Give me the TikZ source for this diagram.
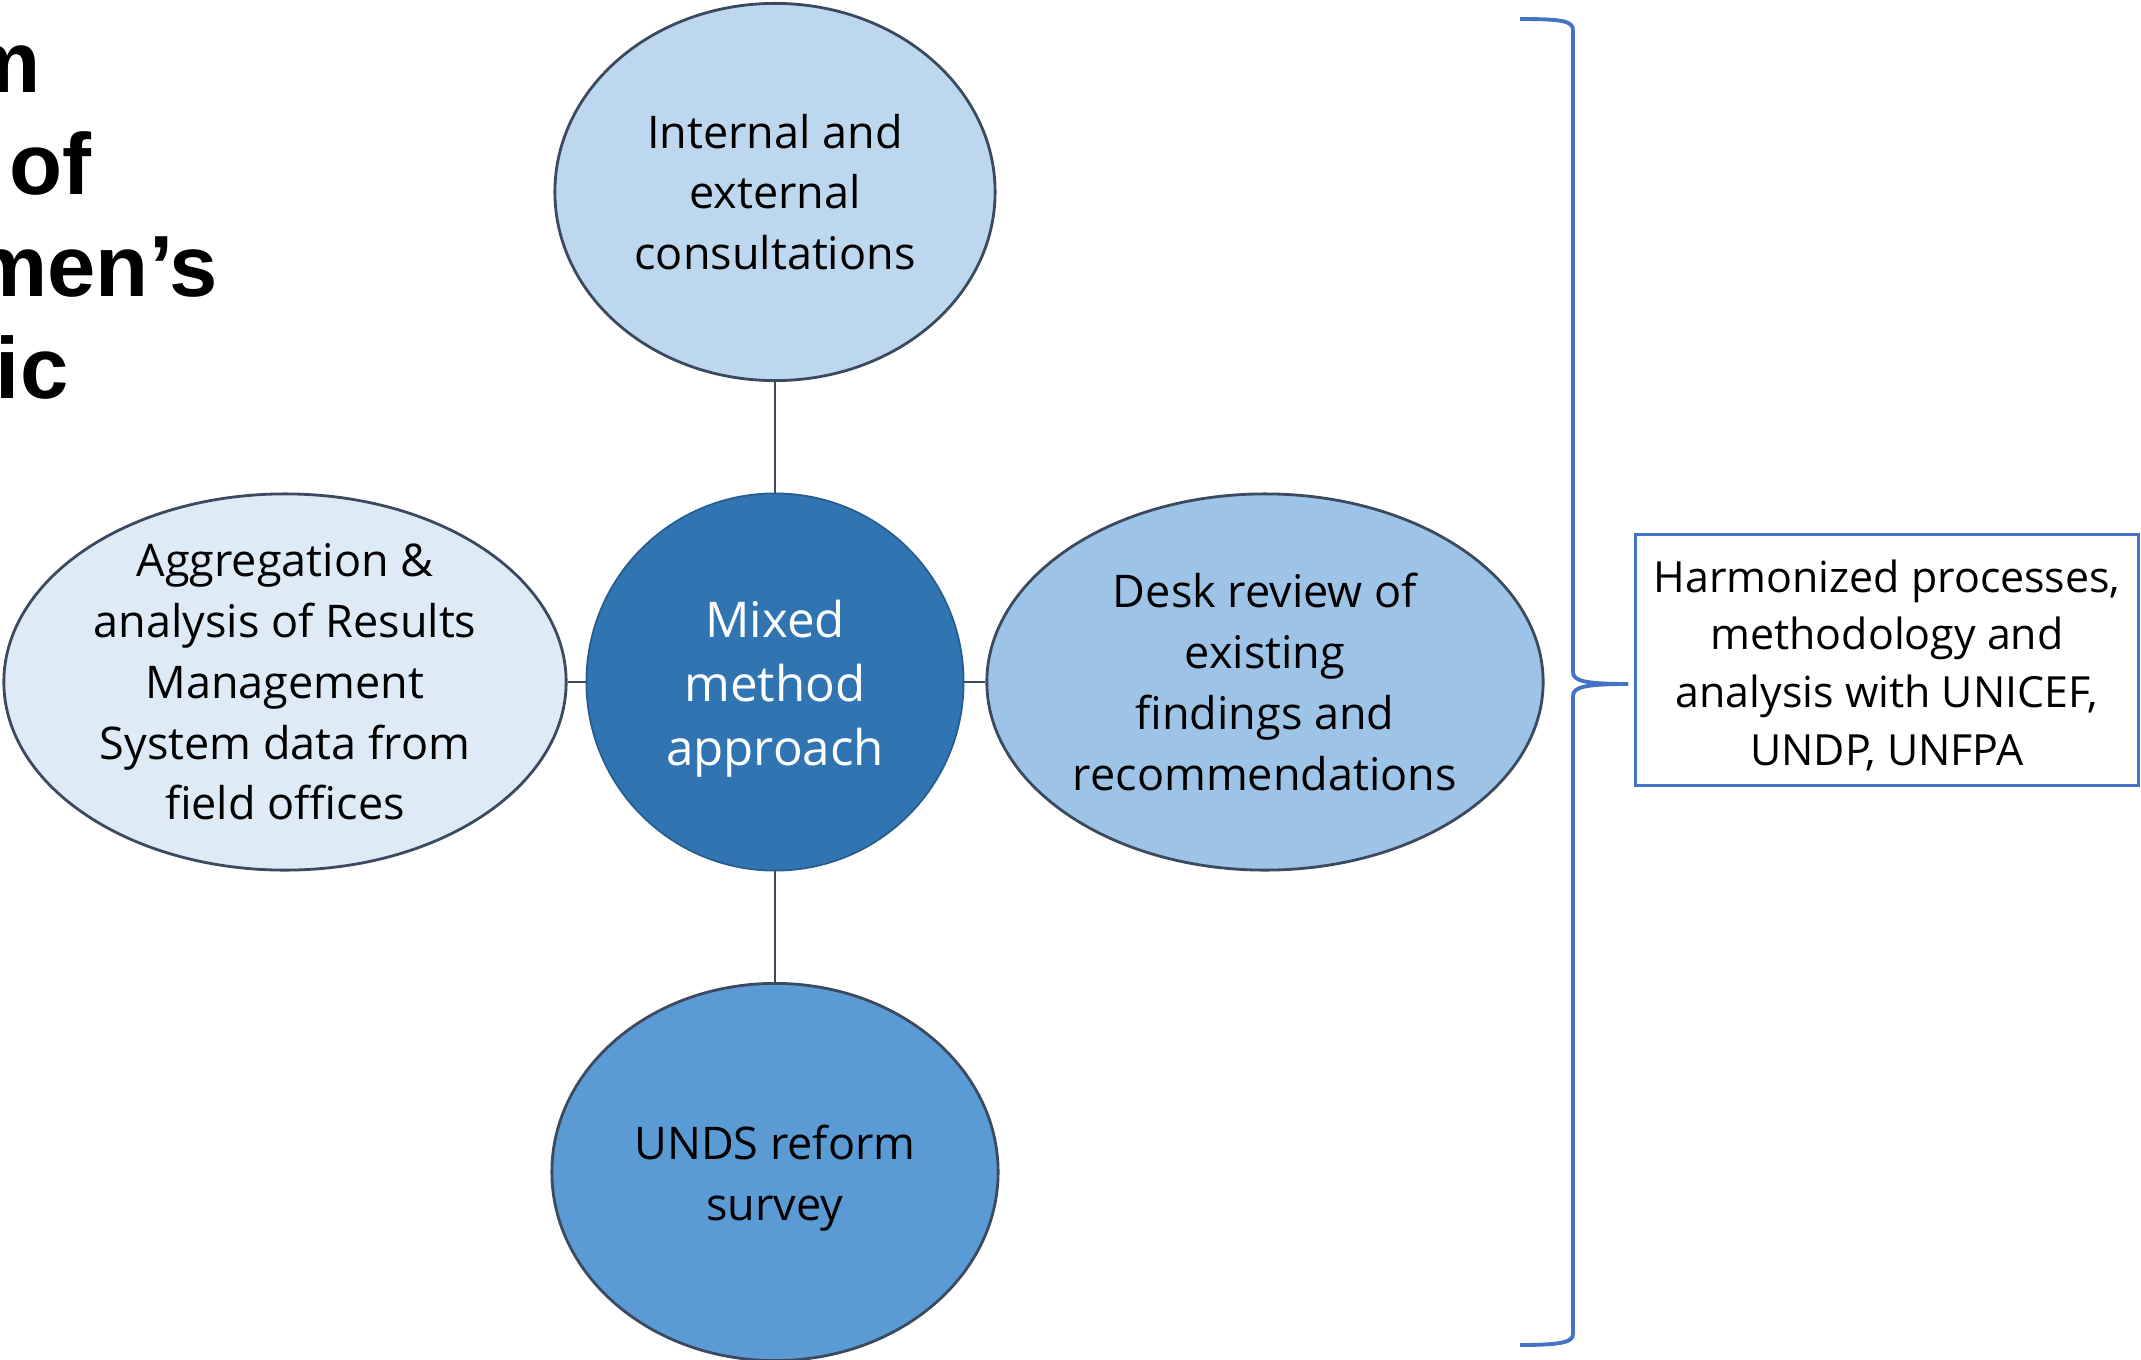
\documentclass[tikz,border=0pt]{standalone}
\usepackage{fontspec}
\setmainfont{Open Sans}
\newfontfamily\titlefont{Liberation Sans}
\usetikzlibrary{shapes.geometric}
\definecolor{edgec}{HTML}{3B4A5E}
\definecolor{topfill}{HTML}{BDD7EE}
\definecolor{leftfill}{HTML}{DEEBF7}
\definecolor{rightfill}{HTML}{9DC3E6}
\definecolor{botfill}{HTML}{5B9BD5}
\definecolor{centerfill}{HTML}{3174B2}
\definecolor{bracec}{HTML}{4472C4}
\begin{document}
\begin{tikzpicture}[x=0.01cm,y=-0.01cm,
  ell/.style={ellipse, draw=edgec, line width=0.8pt, inner sep=0pt},
  lbl/.style={align=center, inner sep=0pt, font=\fontsize{12.8}{17.3}\selectfont, text=black},
  clbl/.style={align=center, inner sep=0pt, font=\fontsize{14}{18.2}\selectfont, text=white},
  boxlbl/.style={align=center, inner sep=0pt, font=\fontsize{12.2}{16.4}\selectfont, text=black},
  conn/.style={draw=edgec, line width=0.8pt},
  bracestyle/.style={draw=bracec, line width=1.1pt},
  titletext/.style={font=\titlefont\bfseries\fontsize{24.7}{29}\selectfont, inner sep=0pt, anchor=base east},
  boxstyle/.style={draw=bracec, line width=0.9pt, minimum width=5.03cm, minimum height=2.51cm, inner sep=0pt}]
\useasboundingbox (0,0) rectangle (2141,1360);
\clip (0,0) rectangle (2141,1360);
% title fragments (cut off at the left edge, as in the reference)
\node[titletext] (t1) at (41,92) {m};
\node[titletext] (t2) at (92,194) {of};
\node[titletext] (t3) at (219,296) {men’s};
\node[titletext] (t4) at (69,398) {ic};
% ellipses
\node[ell, fill=topfill, minimum width=4.40cm, minimum height=3.77cm,
  label={[lbl]center:{Internal and\\external\\consultations}}] (top) at (775,192) {};
\node[ell, fill=leftfill, minimum width=5.62cm, minimum height=3.76cm,
  label={[lbl]center:{Aggregation \&\\analysis of Results\\Management\\System data from\\field offices}}] (left) at (285,682) {};
\node[ell, fill=rightfill, minimum width=5.56cm, minimum height=3.76cm,
  label={[lbl]center:{Desk review of\\existing\\findings and\\recommendations}}] (right) at (1265,682) {};
\node[ell, fill=botfill, minimum width=4.46cm, minimum height=3.77cm,
  label={[lbl, yshift=-0.06cm]center:{UNDS reform\\survey}}] (bottom) at (775,1172) {};
\node[circle, draw=centerfill!80!black, line width=0.5pt, fill=centerfill, minimum size=3.77cm, inner sep=0pt,
  label={[clbl, yshift=-0.07cm]center:{Mixed\\method\\approach}}] (mid) at (775,682) {};
% connectors
\draw[conn] (mid.north) -- (top.south);
\draw[conn] (mid.south) -- (bottom.north);
\draw[conn] (mid.west) -- (left.east);
\draw[conn] (mid.east) -- (right.west);
% box
\node[boxstyle, label={[boxlbl, yshift=-0.05cm]center:{Harmonized processes,\\methodology and\\analysis with UNICEF,\\UNDP, UNFPA}}] (box) at (1887,660) {};
% brace
\coordinate (tip) at (1628,684);
\draw[bracestyle] (1520,19) .. controls (1562,19) and (1573,21) .. (1573,30) -- (1573,672) .. controls (1573,681) and (1585,684) .. (tip);
\draw[bracestyle] (tip) .. controls (1585,684) and (1573,687) .. (1573,696) -- (1573,1334) .. controls (1573,1342) and (1562,1345) .. (1520,1345);
\end{tikzpicture}
\end{document}
